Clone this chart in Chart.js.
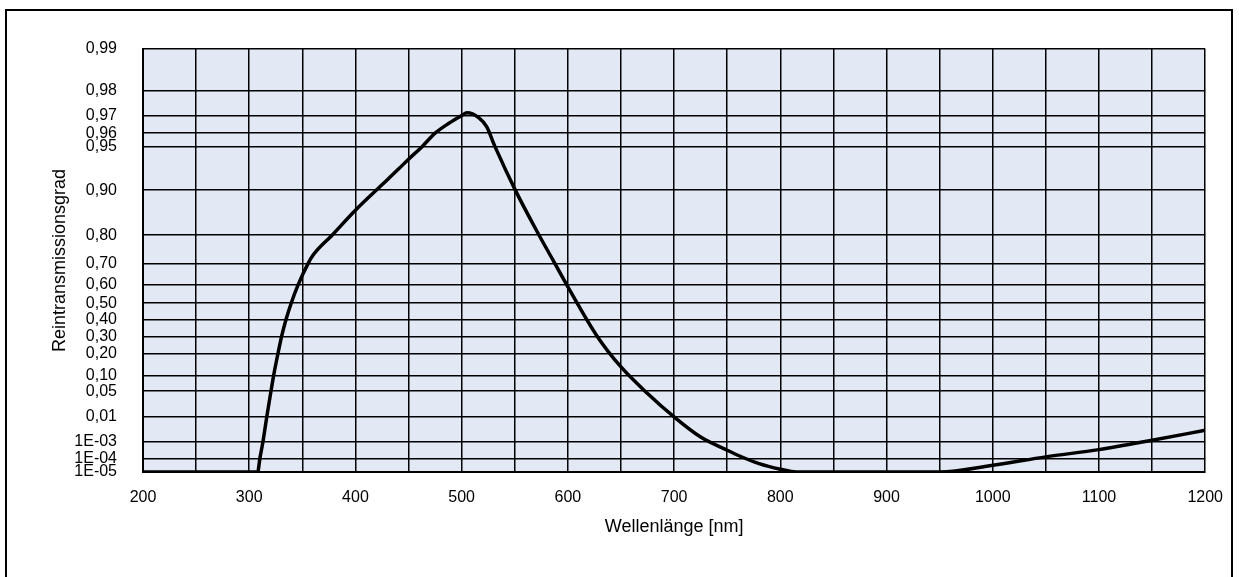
<!DOCTYPE html>
<html lang="de">
<head>
<meta charset="utf-8">
<title>Reintransmissionsgrad</title>
<script src="https://cdn.jsdelivr.net/npm/chart.js@4.4.1/dist/chart.umd.min.js"></script>
<style>
    html, body { margin: 0; padding: 0; background: #fff; overflow: hidden; }
    #wrap { position: relative; width: 1239px; height: 577px; }
    #frame {
        position: absolute; left: 5px; top: 9px;
        width: 1228px; height: 640px;
        box-sizing: border-box; border: 2px solid #000;
    }
    #chart { position: absolute; left: 0; top: 0; }
</style>
</head>
<body>
<div id="wrap">
    <div id="frame"></div>
    <canvas id="chart" width="1239" height="577"></canvas>
</div>
<script>
// Wavelength in nm, pure transmittance
const wavelengths = [200, 300, 308, 310, 313, 316.5, 320.5, 323, 327, 330.5, 334.5, 339.5, 346, 355.5, 360, 378, 400, 425, 441, 450, 462.5, 475, 488, 500, 505, 516, 523.5, 531.5, 550.5, 572, 586, 600, 628, 650, 675, 700, 725, 750, 760, 780, 800, 815, 950, 1000, 1050, 1100, 1150, 1200];
const transmission = [1e-5, 1e-5, 1e-5, 1e-4, 1e-3, 0.01, 0.05, 0.10, 0.20, 0.30, 0.40, 0.50, 0.60, 0.70, 0.732, 0.80, 0.863, 0.908, 0.929, 0.939, 0.95, 0.96, 0.966, 0.970, 0.9714, 0.969, 0.964, 0.95, 0.90, 0.805, 0.713, 0.59, 0.297, 0.135, 0.0444, 0.01, 0.0016, 3.3e-4, 1.65e-4, 4.5e-5, 1.7e-5, 1e-5, 1e-5, 3.4e-5, 1.3e-4, 3.6e-4, 1.13e-3, 3.2e-3];

const yTickValues = [1e-5, 1e-4, 1e-3, 0.01, 0.05, 0.10, 0.20, 0.30, 0.40, 0.50, 0.60, 0.70, 0.80, 0.90, 0.95, 0.96, 0.97, 0.98, 0.99];
const yTickLabels = ['1E-05', '1E-04', '1E-03', '0,01', '0,05', '0,10', '0,20', '0,30', '0,40', '0,50', '0,60', '0,70', '0,80', '0,90', '0,95', '0,96', '0,97', '0,98', '0,99'];
const xTickLabels = ['200', '300', '400', '500', '600', '700', '800', '900', '1000', '1100', '1200'];

const FONT = 'Arial, "Liberation Sans", sans-serif';

// diabatic ordinate: -log(log(1/t))
function diabatic(t) {
    return -Math.log10(Math.log10(1 / t));
}

const plotBackground = {
    id: 'plotBackground',
    beforeDraw(chart) {
        const { ctx, chartArea: a } = chart;
        ctx.save();
        ctx.fillStyle = '#e2e8f4';
        ctx.fillRect(a.left, a.top, a.right - a.left, a.bottom - a.top);
        ctx.restore();
    }
};

const points = wavelengths.map((w, i) => ({ x: w, y: diabatic(transmission[i]) }));

new Chart(document.getElementById('chart'), {
    type: 'line',
    data: {
        datasets: [{
            label: 'Reintransmissionsgrad',
            data: points,
            borderColor: '#000',
            borderWidth: 3.5,
            pointRadius: 0,
            fill: false,
            cubicInterpolationMode: 'monotone'
        }]
    },
    options: {
        responsive: false,
        animation: false,
        layout: { padding: { top: 49, right: 29, bottom: 0, left: 0 } },
        plugins: {
            legend: { display: false },
            tooltip: { enabled: false }
        },
        scales: {
            x: {
                type: 'linear',
                min: 200,
                max: 1200,
                afterFit: (scale) => { scale.height = 105; },
                grid: { color: '#000', lineWidth: 1.5, drawTicks: false },
                border: { color: '#000', width: 2 },
                ticks: {
                    stepSize: 50,
                    padding: 16,
                    color: '#000',
                    font: { family: FONT, size: 16 },
                    maxRotation: 0,
                    autoSkip: false,
                    callback: (value) => xTickLabels.includes(String(value)) ? String(value) : ''
                },
                title: {
                    display: true,
                    text: 'Wellenlänge [nm]',
                    color: '#000',
                    font: { family: FONT, size: 18 },
                    padding: { top: 0, bottom: 39 }
                }
            },
            y: {
                type: 'linear',
                min: diabatic(yTickValues[0]),
                max: diabatic(yTickValues[yTickValues.length - 1]),
                afterFit: (scale) => { scale.width = 143; },
                afterBuildTicks: (scale) => {
                    scale.ticks = yTickValues.map(v => ({ value: diabatic(v) }));
                },
                grid: { color: '#000', lineWidth: 1.5, drawTicks: false },
                border: { color: '#000', width: 2 },
                ticks: {
                    padding: 26,
                    color: '#000',
                    font: { family: FONT, size: 16 },
                    autoSkip: false,
                    callback: (value, index) => yTickLabels[index]
                },
                title: {
                    display: true,
                    text: 'Reintransmissionsgrad',
                    color: '#000',
                    font: { family: FONT, size: 18 },
                    padding: { top: 49, bottom: 0 }
                }
            }
        }
    },
    plugins: [plotBackground]
});
</script>
</body>
</html>
